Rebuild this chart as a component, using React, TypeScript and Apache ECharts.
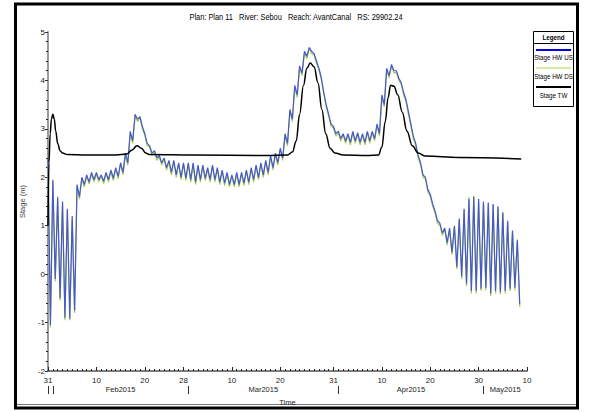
import React, { useEffect, useRef } from 'react';
import * as echarts from 'echarts';

const FONT = "'Liberation Sans', Arial, sans-serif";

const titleText = 'Plan: Plan 11   River: Sebou   Reach: AvantCanal   RS: 29902.24';

// x axis runs in days counted from 31 Jan 2015 00:00
const X_MIN = 0;
const X_MAX = 99;
const dayTicks = [0, 10, 20, 28, 38, 48, 59, 69, 79, 89, 99];
const dayTickLabels = ['31', '10', '20', '28', '10', '20', '31', '10', '20', '30', '10'];
const monthStarts = [0, 1, 29, 60, 90];
const monthLabelDays = [15, 44.5, 75, 94.5];
const monthLabels = ['Feb2015', 'Mar2015', 'Apr2015', 'May2015'];
const allDays = Array.from({ length: X_MAX + 1 }, (_, i) => i);

// Stage HW US: daily tidal high (at day start) and low (half a day later), m
const usHigh = [
  2.4, 1.95, 1.6, 1.5, 1.35, 1.2, 1.85, 2.0, 2.05, 2.1,
  2.1, 2.05, 2.1, 2.15, 2.2, 2.3, 2.5, 2.95, 3.3, 3.25,
  2.9, 2.65, 2.55, 2.45, 2.4, 2.35, 2.35, 2.3, 2.3, 2.3,
  2.3, 2.25, 2.25, 2.2, 2.25, 2.2, 2.15, 2.1, 2.05, 2.1,
  2.1, 2.15, 2.2, 2.25, 2.3, 2.35, 2.45, 2.5, 2.6, 2.9,
  3.4, 3.9, 4.3, 4.6, 4.68, 4.55, 4.25, 3.75, 3.3, 3.05,
  2.95, 2.9, 2.9, 2.95, 2.92, 2.9, 2.95, 2.95, 3.1, 3.7,
  4.25, 4.33, 4.2, 3.95, 3.6, 3.1, 2.7, 2.3, 2.0, 1.65,
  1.3, 1.05, 0.95, 0.95, 1.0, 1.15, 1.35, 1.55, 1.6, 1.55,
  1.5, 1.48, 1.45, 1.4, 1.28, 1.1, 0.9, 0.7,
];
const usLow = [
  -1.05, -0.1, -0.5, -0.9, -0.92, -0.75, 1.6, 1.85, 1.9, 1.95,
  1.95, 1.92, 1.95, 1.98, 2.02, 2.1, 2.3, 2.75, 3.2, 3.05,
  2.7, 2.5, 2.4, 2.3, 2.2, 2.1, 2.05, 2.0, 1.98, 1.95,
  1.9, 1.95, 1.98, 1.95, 1.95, 1.9, 1.88, 1.85, 1.85, 1.85,
  1.88, 1.9, 1.95, 2.0, 2.05, 2.1, 2.2, 2.3, 2.4, 2.7,
  3.2, 3.7, 4.15, 4.5, 4.6, 4.4, 4.05, 3.5, 3.1, 2.9,
  2.8, 2.75, 2.72, 2.75, 2.72, 2.72, 2.75, 2.8, 2.9, 3.5,
  4.1, 4.2, 4.05, 3.75, 3.35, 2.85, 2.45, 2.05, 1.75, 1.45,
  1.1, 0.85, 0.65, 0.45, 0.15, -0.05, -0.2, -0.35, -0.35, -0.3,
  -0.28, -0.4, -0.35, -0.37, -0.35, -0.3, -0.28, -0.62,
];

// Stage HW DS: daily high and low, m
const dsHigh = [
  2.3, 1.9, 1.55, 1.45, 1.3, 1.15, 1.8, 1.97, 2.02, 2.07,
  2.07, 2.02, 2.07, 2.12, 2.17, 2.27, 2.46, 2.9, 3.27, 3.22,
  2.87, 2.62, 2.52, 2.42, 2.37, 2.32, 2.32, 2.27, 2.27, 2.27,
  2.27, 2.22, 2.22, 2.17, 2.22, 2.17, 2.12, 2.07, 2.02, 2.07,
  2.07, 2.12, 2.17, 2.22, 2.27, 2.32, 2.42, 2.47, 2.57, 2.86,
  3.36, 3.86, 4.27, 4.57, 4.66, 4.52, 4.22, 3.72, 3.27, 3.02,
  2.92, 2.87, 2.87, 2.92, 2.89, 2.87, 2.92, 2.92, 3.06, 3.65,
  4.22, 4.3, 4.17, 3.92, 3.56, 3.06, 2.66, 2.26, 1.96, 1.61,
  1.26, 1.01, 0.92, 0.92, 0.97, 1.12, 1.33, 1.6, 1.62, 1.52,
  1.47, 1.45, 1.43, 1.37, 1.26, 1.08, 0.88, 0.72,
];
const dsLow = [
  -1.1, -0.15, -0.55, -0.95, -0.95, -0.8, 1.55, 1.8, 1.86, 1.9,
  1.9, 1.87, 1.9, 1.93, 1.97, 2.05, 2.25, 2.7, 3.15, 3.0,
  2.65, 2.45, 2.35, 2.25, 2.15, 2.05, 2.0, 1.95, 1.93, 1.9,
  1.85, 1.9, 1.93, 1.9, 1.9, 1.85, 1.83, 1.8, 1.8, 1.8,
  1.83, 1.85, 1.9, 1.95, 2.0, 2.05, 2.15, 2.25, 2.35, 2.65,
  3.15, 3.65, 4.1, 4.45, 4.55, 4.35, 4.0, 3.45, 3.05, 2.85,
  2.75, 2.7, 2.67, 2.7, 2.67, 2.67, 2.7, 2.75, 2.85, 3.45,
  4.05, 4.15, 4.0, 3.7, 3.3, 2.8, 2.4, 2.0, 1.7, 1.4,
  1.05, 0.8, 0.6, 0.4, 0.1, -0.1, -0.25, -0.4, -0.4, -0.35,
  -0.33, -0.45, -0.4, -0.42, -0.4, -0.35, -0.33, -0.68,
];

// Stage TW: day and stage, m
const twDays = [
  0, 0.2, 0.45, 0.7, 1.0, 1.3, 1.6, 2.0, 2.5, 3.0, 4.0, 8, 14, 16.3, 17.3, 18.4, 19.3, 20.2, 21,
  30, 45, 49.5, 50.5, 51.3, 52, 52.8, 53.5, 54.2, 55, 55.8, 56.6, 57.4, 58.3, 59.3, 61, 66, 68.3,
  69, 69.7, 70.3, 70.8, 71.5, 72.3, 73.2, 74.2, 75.3, 76.5, 78, 85, 97.8,
];
const twVals = [
  1.0, 2.3, 2.9, 3.2, 3.3, 3.2, 2.95, 2.7, 2.55, 2.5, 2.47, 2.46, 2.46, 2.48, 2.56, 2.65, 2.6, 2.5, 2.47,
  2.46, 2.45, 2.46, 2.52, 2.75, 3.3, 3.9, 4.25, 4.36, 4.28, 3.95, 3.4, 2.9, 2.6, 2.5, 2.46, 2.45, 2.46,
  2.62, 3.15, 3.65, 3.9, 3.88, 3.7, 3.35, 2.95, 2.65, 2.5, 2.44, 2.41, 2.38,
];

const zigzag = (hi: number[], lo: number[]) => {
  const out: number[][] = [];
  hi.forEach((h, i) => {
    out.push([i, h]);
    out.push([i + 0.5, lo[i]]);
  });
  return out;
};

const usData = zigzag(usHigh, usLow);
const dsData = zigzag(dsHigh, dsLow);
const twData = twDays.map((d, i) => [d, twVals[i]]);

const COLOR_US = '#4658cc';
const COLOR_DS = '#a9cc4e';
const COLOR_TW = '#000000';

const baseX = {
  type: 'value',
  min: X_MIN,
  max: X_MAX,
  position: 'bottom',
  splitLine: { show: false },
};

const legendText = (text: string, y: number, bold = false) => ({
  type: 'text',
  x: 553.5,
  y,
  scaleX: 0.78,
  style: {
    text,
    fontSize: 8,
    fontWeight: bold ? 'bold' : 'normal',
    fill: '#000',
    align: 'center',
    verticalAlign: 'middle',
    fontFamily: FONT,
  },
});

export default function App() {
  const ref = useRef<HTMLDivElement>(null);

  useEffect(() => {
    if (!ref.current) return;
    const chart = echarts.init(ref.current, undefined, { renderer: 'svg' });
    chart.setOption({
      animation: false,
      backgroundColor: '#ffffff',
      textStyle: { fontFamily: FONT },
      grid: { left: 48, right: 65, top: 32, bottom: 41 },
      xAxis: [
        {
          ...baseX,
          axisLine: { show: true, onZero: false, lineStyle: { color: '#555', width: 1.5 } },
          axisTick: { show: true, inside: true, length: 2, customValues: allDays, lineStyle: { color: '#222' } },
          axisLabel: {
            show: true,
            customValues: dayTicks,
            margin: 5,
            fontSize: 8,
            color: '#222',
            fontFamily: FONT,
            formatter: (v: number) => dayTickLabels[dayTicks.indexOf(v)] ?? '',
          },
        },
        {
          ...baseX,
          axisLine: { show: false, onZero: false },
          axisTick: { show: true, inside: true, length: 4, customValues: dayTicks, lineStyle: { color: '#222' } },
          axisLabel: { show: false },
        },
        {
          ...baseX,
          offset: 15,
          axisLine: { show: false, onZero: false },
          axisTick: { show: true, inside: false, length: 8, customValues: monthStarts, lineStyle: { color: '#333', width: 1 } },
          axisLabel: {
            show: true,
            customValues: monthLabelDays,
            margin: -1,
            fontSize: 7.5,
            color: '#222',
            fontFamily: FONT,
            formatter: (v: number) => monthLabels[monthLabelDays.indexOf(v)] ?? '',
          },
          name: 'Time',
          nameLocation: 'middle',
          nameGap: 12,
          nameTextStyle: { fontSize: 7.5, color: '#222', fontFamily: FONT },
        },
      ],
      yAxis: {
        type: 'value',
        min: -2,
        max: 5,
        interval: 1,
        name: 'Stage (m)',
        nameLocation: 'middle',
        nameGap: 11,
        nameTextStyle: { fontSize: 7.5, color: '#444', fontFamily: FONT },
        axisLine: { show: true, lineStyle: { color: '#9c9c9c', width: 2 } },
        axisTick: { show: true, length: 3, lineStyle: { color: '#333' } },
        minorTick: { show: true, splitNumber: 5, length: 2, lineStyle: { color: '#222' } },
        axisLabel: { fontSize: 8, color: '#222', margin: 3, fontFamily: FONT },
        splitLine: { show: false },
      },
      series: [
        {
          name: 'Stage HW DS',
          type: 'line',
          data: dsData,
          showSymbol: false,
          lineStyle: { color: COLOR_DS, width: 1.2 },
          itemStyle: { color: COLOR_DS },
          z: 2,
        },
        {
          name: 'Stage HW US',
          type: 'line',
          data: usData,
          showSymbol: false,
          lineStyle: { color: COLOR_US, width: 1.2 },
          itemStyle: { color: COLOR_US },
          z: 3,
        },
        {
          name: 'Stage TW',
          type: 'line',
          data: twData,
          showSymbol: false,
          smooth: 0.4,
          smoothMonotone: 'x',
          lineStyle: { color: COLOR_TW, width: 1.5 },
          itemStyle: { color: COLOR_TW },
          z: 4,
        },
      ],
      graphic: [
        // heading
        {
          type: 'text',
          x: 296,
          y: 17,
          scaleX: 0.78,
          silent: true,
          style: { text: titleText, fontSize: 9.5, fill: '#000', align: 'center', verticalAlign: 'middle', fontFamily: FONT },
        },
        // outer frame
        {
          type: 'rect',
          shape: { x: 15.5, y: 4, width: 562, height: 404 },
          style: { fill: 'none', stroke: '#000', lineWidth: 3 },
          silent: true,
        },
        {
          type: 'line',
          shape: { x1: 17, y1: 404.5, x2: 576, y2: 404.5 },
          style: { stroke: '#777', lineWidth: 1 },
          silent: true,
        },
        // legend box
        {
          type: 'group',
          silent: true,
          children: [
            { type: 'rect', shape: { x: 533.5, y: 31.5, width: 40, height: 75 }, style: { fill: '#fff', stroke: '#000', lineWidth: 1 } },
            legendText('Legend', 38, true),
            { type: 'line', shape: { x1: 533.5, y1: 43.5, x2: 573.5, y2: 43.5 }, style: { stroke: '#000', lineWidth: 1 } },
            { type: 'line', shape: { x1: 536, y1: 50, x2: 571, y2: 50 }, style: { stroke: '#0000ee', lineWidth: 2 } },
            legendText('Stage HW US', 58),
            { type: 'line', shape: { x1: 536, y1: 68, x2: 571, y2: 68 }, style: { stroke: '#d4eba0', lineWidth: 2 } },
            legendText('Stage HW DS', 77),
            { type: 'line', shape: { x1: 536, y1: 87, x2: 571, y2: 87 }, style: { stroke: '#000', lineWidth: 2 } },
            legendText('Stage TW', 96),
          ],
        },
      ],
    });
    return () => chart.dispose();
  }, []);

  return (
    <div
      ref={ref}
      style={{ position: 'fixed', left: 0, top: 0, width: 592, height: 412, background: '#fff' }}
    />
  );
}
